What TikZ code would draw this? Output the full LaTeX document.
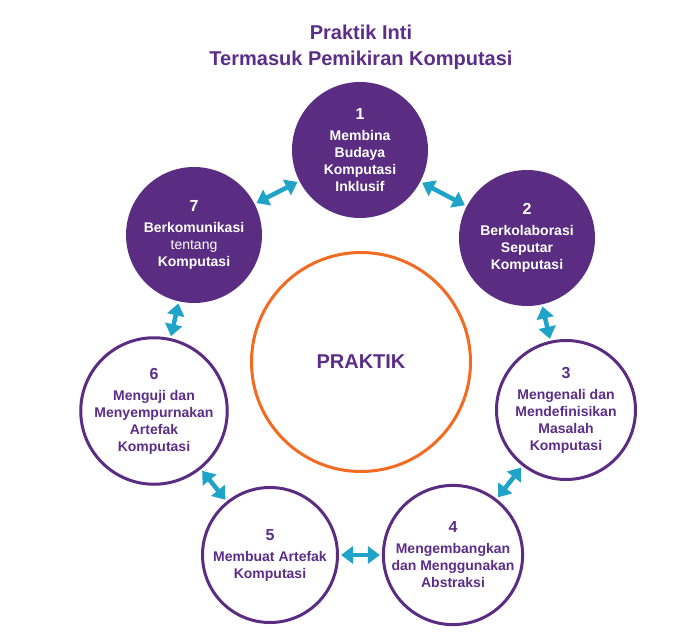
\documentclass[tikz,border=0pt]{standalone}
\usepackage{fontspec}
\setmainfont{Liberation Sans}
\usetikzlibrary{arrows.meta}
\definecolor{pk}{HTML}{5A2D82}
\definecolor{pktext}{HTML}{5C2E88}
\definecolor{cy}{HTML}{1FA3C9}
\definecolor{og}{HTML}{F26B21}
\begin{document}
\begin{tikzpicture}[x=1pt,y=-1pt,
  lbl/.style={align=center,inner sep=0pt,font=\fontsize{14}{17}\selectfont\bfseries},
  full/.style={lbl,circle,fill=pk,text=white,minimum size=136pt},
  ring/.style={lbl,circle,draw=pk,line width=3pt,fill=white,text=pktext,minimum size=135pt},
  link/.style={cy,line width=4.5pt,
    {Triangle[width=17pt,length=12pt]}-{Triangle[width=17pt,length=12pt]},
    shorten <=2pt,shorten >=2pt},
  ttl/.style={anchor=base,text=pktext,inner sep=0pt,font=\fontsize{20}{26}\selectfont\bfseries}]
\useasboundingbox (0,0) rectangle (686,643);
\fill[white] (0,0) rectangle (686,643);

\node[ttl] (t1) at (361,39) {Praktik Inti};
\node[ttl] (t2) at (361,65) {Termasuk Pemikiran Komputasi};

\node[circle,draw=og,line width=3pt,minimum size=219pt,inner sep=0pt,
      text=pktext,font=\fontsize{20}{24}\selectfont\bfseries] (core) at (361,362) {PRAKTIK};

\node[full] (c1) at (360,150) {{\fontsize{16}{17}\selectfont 1}\\[4pt]Membina\\Budaya\\Komputasi\\Inklusif};
\node[full] (c2) at (527,238) {{\fontsize{16}{17}\selectfont 2}\\[4pt]Berkolaborasi\\Seputar\\Komputasi};
\node[ring,minimum size=139pt] (c3) at (566,410) {{\fontsize{16}{17}\selectfont 3}\\[4pt]Mengenali dan\\Mendefinisikan\\Masalah\\Komputasi};
\node[ring] (c4) at (453,555) {{\fontsize{16}{17}\selectfont 4}\\[4pt]Mengembangkan\\dan Menggunakan\\Abstraksi};
\node[ring] (c5) at (270,555) {{\fontsize{16}{17}\selectfont 5}\\[4pt]Membuat Artefak\\Komputasi};
\node[ring,minimum size=136pt] (c6) at (154,411) {{\fontsize{16}{17}\selectfont 6}\\[4pt]Menguji dan\\Menyempurnakan\\Artefak\\Komputasi};
\node[full] (c7) at (194,235) {{\fontsize{16}{17}\selectfont 7}\\[4pt]Berkomunikasi\\{\mdseries tentang}\\Komputasi};

\draw[link] (c7) -- (c1);
\draw[link] (c1) -- (c2);
\draw[link] (c2) -- (c3);
\draw[link] (c3) -- (c4);
\draw[link] (c4) -- (c5);
\draw[link] (c5) -- (c6);
\draw[link] (c6) -- (c7);
\end{tikzpicture}
\end{document}
